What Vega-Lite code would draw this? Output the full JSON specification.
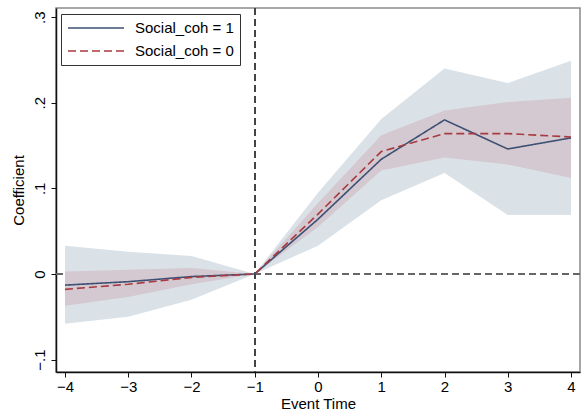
{
  "$schema": "https://vega.github.io/schema/vega-lite/v6.json",
  "width": 524,
  "height": 364,
  "autosize": {"type": "none"},
  "padding": {"left": 56, "top": 8, "right": 2, "bottom": 42},
  "background": "white",
  "config": {
    "font": "Liberation Sans",
    "view": {"stroke": "#8a8a8a", "strokeWidth": 1.5},
    "axis": {
      "grid": false,
      "domainColor": "#111",
      "domainWidth": 1.5,
      "tickColor": "#111",
      "tickWidth": 1,
      "tickSize": 5,
      "labelColor": "#000",
      "labelFontSize": 15,
      "titleFontSize": 15,
      "titleFontWeight": "normal",
      "titleColor": "#000",
      "labelFont": "Liberation Sans",
      "titleFont": "Liberation Sans"
    },
    "legend": {
      "labelFont": "Liberation Sans",
      "labelFontSize": 15,
      "labelColor": "#000"
    }
  },
  "data": {
    "values": [
      {"t": -4, "grp": "Social_coh = 1", "b": -0.013, "lo": -0.058, "hi": 0.033},
      {"t": -3, "grp": "Social_coh = 1", "b": -0.009, "lo": -0.050, "hi": 0.026},
      {"t": -2, "grp": "Social_coh = 1", "b": -0.003, "lo": -0.030, "hi": 0.021},
      {"t": -1, "grp": "Social_coh = 1", "b": 0, "lo": 0, "hi": 0},
      {"t": 0, "grp": "Social_coh = 1", "b": 0.064, "lo": 0.033, "hi": 0.095},
      {"t": 1, "grp": "Social_coh = 1", "b": 0.134, "lo": 0.086, "hi": 0.181},
      {"t": 2, "grp": "Social_coh = 1", "b": 0.180, "lo": 0.118, "hi": 0.240},
      {"t": 3, "grp": "Social_coh = 1", "b": 0.146, "lo": 0.069, "hi": 0.223},
      {"t": 4, "grp": "Social_coh = 1", "b": 0.159, "lo": 0.069, "hi": 0.249},
      {"t": -4, "grp": "Social_coh = 0", "b": -0.018, "lo": -0.037, "hi": 0.003},
      {"t": -3, "grp": "Social_coh = 0", "b": -0.012, "lo": -0.027, "hi": 0.005},
      {"t": -2, "grp": "Social_coh = 0", "b": -0.004, "lo": -0.012, "hi": 0.007},
      {"t": -1, "grp": "Social_coh = 0", "b": 0, "lo": 0, "hi": 0},
      {"t": 0, "grp": "Social_coh = 0", "b": 0.070, "lo": 0.055, "hi": 0.083},
      {"t": 1, "grp": "Social_coh = 0", "b": 0.143, "lo": 0.121, "hi": 0.162},
      {"t": 2, "grp": "Social_coh = 0", "b": 0.164, "lo": 0.136, "hi": 0.191},
      {"t": 3, "grp": "Social_coh = 0", "b": 0.164, "lo": 0.128, "hi": 0.201},
      {"t": 4, "grp": "Social_coh = 0", "b": 0.160, "lo": 0.112, "hi": 0.206}
    ]
  },
  "encoding": {
    "x": {
      "field": "t",
      "type": "quantitative",
      "scale": {"domain": [-4.142, 4.142], "nice": false, "zero": false},
      "axis": {
        "title": "Event Time",
        "values": [-4, -3, -2, -1, 0, 1, 2, 3, 4],
        "format": "d",
        "labelPadding": 2,
        "titlePadding": 2
      }
    }
  },
  "layer": [
    {
      "mark": {"type": "rule", "color": "#666", "strokeWidth": 1, "strokeDash": [7, 4]},
      "encoding": {"y": {"datum": 0, "type": "quantitative"}, "x": null}
    },
    {
      "mark": {"type": "rule", "color": "#444", "strokeWidth": 1, "strokeDash": [7, 4]},
      "encoding": {"x": {"datum": -1, "type": "quantitative"}}
    },
    {
      "transform": [{"filter": "datum.grp === 'Social_coh = 1'"}],
      "mark": {"type": "area", "color": "#dae2e8", "opacity": 1},
      "encoding": {
        "y": {"field": "lo", "type": "quantitative"},
        "y2": {"field": "hi"}
      }
    },
    {
      "transform": [{"filter": "datum.grp === 'Social_coh = 0'"}],
      "mark": {"type": "area", "color": "#d4c9d0", "opacity": 1},
      "encoding": {
        "y": {"field": "lo", "type": "quantitative"},
        "y2": {"field": "hi"}
      }
    },
    {
      "mark": {"type": "line", "strokeWidth": 1.6},
      "encoding": {
        "y": {
          "field": "b",
          "type": "quantitative",
          "scale": {"domain": [-0.1145, 0.3107], "nice": false, "zero": false},
          "axis": {
            "title": "Coefficient",
            "values": [-0.1, 0, 0.1, 0.2, 0.3],
            "labelExpr": "datum.value == 0 ? '0' : replace(format(datum.value, '.1f'), '0.', '.')",
            "labelAngle": -90,
            "labelAlign": "center",
            "labelBaseline": "bottom",
            "labelPadding": 4,
            "titlePadding": 6
          }
        },
        "color": {
          "field": "grp",
          "type": "nominal",
          "scale": {"domain": ["Social_coh = 1", "Social_coh = 0"], "range": ["#3d5074", "#a83a40"]},
          "legend": {
            "title": null,
            "orient": "none",
            "legendX": 5,
            "legendY": 6,
            "padding": 6,
            "strokeColor": "#333",
            "fillColor": "white",
            "symbolType": "M-1,0H7",
            "symbolSize": 196,
            "symbolStrokeWidth": 1.6,
            "labelOffset": 52,
            "rowPadding": 7
          }
        },
        "strokeDash": {
          "field": "grp",
          "type": "nominal",
          "scale": {"domain": ["Social_coh = 1", "Social_coh = 0"], "range": [[1, 0], [8, 4]]},
          "legend": {
            "title": null,
            "orient": "none",
            "legendX": 5,
            "legendY": 6,
            "padding": 6,
            "strokeColor": "#333",
            "fillColor": "white",
            "symbolType": "M-1,0H7",
            "symbolSize": 196,
            "symbolStrokeWidth": 1.6,
            "labelOffset": 52,
            "rowPadding": 7
          }
        }
      }
    }
  ]
}
